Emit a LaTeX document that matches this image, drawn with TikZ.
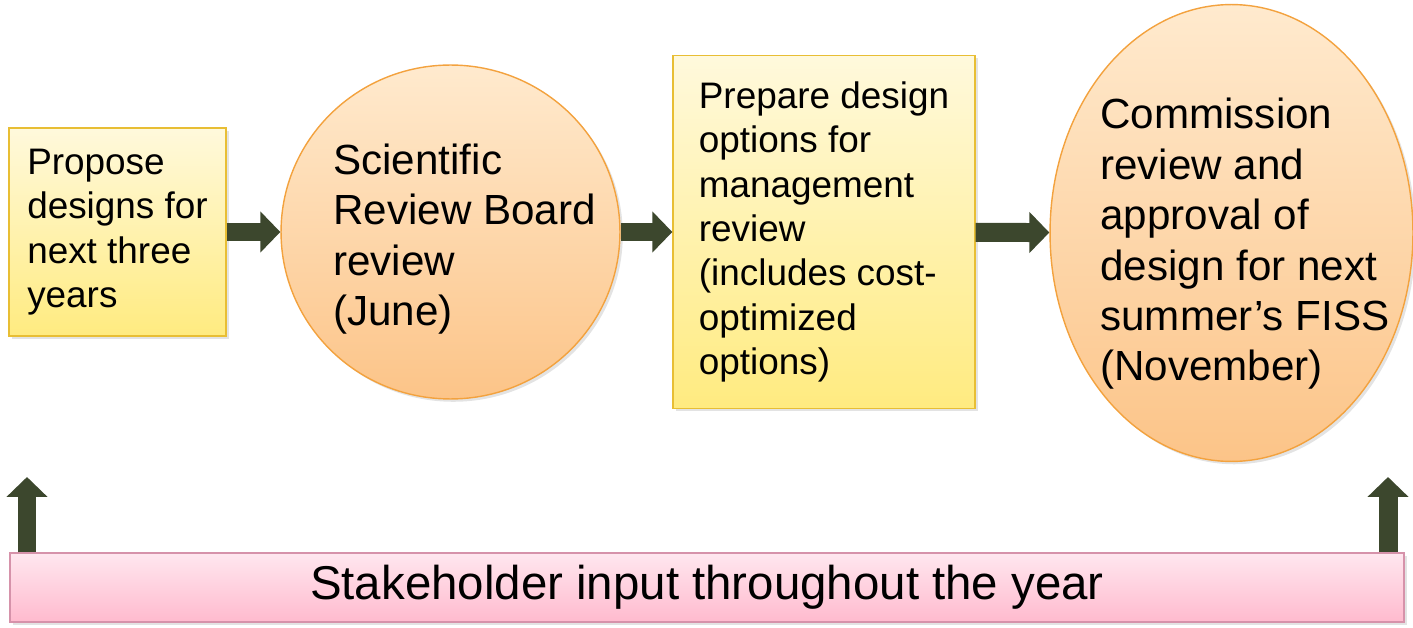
\documentclass[tikz,border=0pt]{standalone}
\usepackage{fontspec}
\setmainfont{Liberation Sans}
\usepackage{tikz}
\usetikzlibrary{arrows.meta,positioning,shapes.geometric,shadows}
\definecolor{fisslemontop}{RGB}{255,249,220}
\definecolor{fisslemon}{RGB}{255,235,128}
\definecolor{fissgold}{RGB}{232,190,52}
\definecolor{fisspeachtop}{RGB}{255,234,206}
\definecolor{fisspeach}{RGB}{252,196,136}
\definecolor{fissorange}{RGB}{243,162,62}
\definecolor{fisspinktop}{RGB}{255,231,239}
\definecolor{fisspink}{RGB}{255,186,206}
\definecolor{fissmauve}{RGB}{214,146,170}
\definecolor{fissolive}{RGB}{60,71,45}

\begin{document}
\begin{tikzpicture}[x=0.02cm, y=-0.02cm,
  softshadow/.style={drop shadow={opacity=0.22, shadow xshift=1.6pt, shadow yshift=-1.6pt}},
  stepbox/.style={draw=fissgold, line width=0.8pt, top color=fisslemontop, bottom color=fisslemon,
    softshadow, align=left, font=\fontsize{21}{25.3}\selectfont},
  oval/.style={ellipse, draw=fissorange, line width=0.8pt, top color=fisspeachtop, bottom color=fisspeach,
    softshadow, inner sep=0pt},
  ovaltext/.style={anchor=west, align=left, inner sep=0pt, font=\fontsize{24}{28.7}\selectfont},
  band/.style={draw=fissmauve, line width=0.8pt, top color=fisspinktop, bottom color=fisspink,
    softshadow, font=\fontsize{27}{32}\selectfont},
  flow/.style={draw=fissolive, line width=0.38cm, -{Triangle[width=0.8cm, length=0.4cm]}}]
\useasboundingbox (0,0) rectangle (1413,628);

\node[stepbox, minimum width=4.34cm, minimum height=4.16cm] (prop) at (117.5,232)
  {Propose\\designs for\\next three\\years};
\node[oval, minimum width=6.78cm, minimum height=6.68cm] (srb) at (450.5,232) {};
\node[ovaltext] (srbtext) at ([xshift=-2.35cm, yshift=-0.14cm]srb.center)
  {Scientific\\Review Board\\review\\(June)};
\node[stepbox, minimum width=6.04cm, minimum height=7.06cm] (prep) at (824,232)
  {Prepare design\\options for\\management\\review\\(includes cost-\\optimized\\options)};
\node[oval, minimum width=7.26cm, minimum height=9.14cm] (comm) at (1231.5,233) {};
\node[ovaltext] (commtext) at ([xshift=-2.63cm, yshift=-0.22cm]comm.center)
  {Commission\\review and\\approval of\\design for next\\summer’s FISS\\(November)};

\node[band, minimum width=27.88cm, minimum height=1.38cm] (input) at (707,587.5)
  {Stakeholder input throughout the year};

\coordinate (lefttip) at (27,477);
\coordinate (righttip) at (1388,477);

\draw[flow] (prop) -- (srb);
\draw[flow] (srb) -- (prep);
\draw[flow] (prep) -- (comm);
\draw[flow] (input.north -| lefttip) -- (lefttip);
\draw[flow] (input.north -| righttip) -- (righttip);
\end{tikzpicture}
\end{document}
